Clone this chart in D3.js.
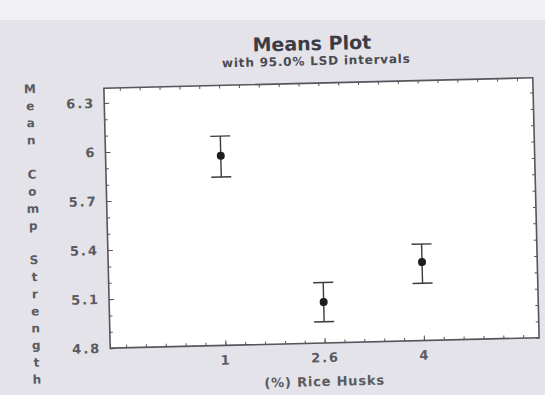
<!DOCTYPE html>
<html lang="en">
<head>
<meta charset="utf-8">
<title>Means Plot</title>
<script src="https://cdn.jsdelivr.net/npm/d3@7"></script>
<style>
    body { margin: 0; background: #f1f1f3; }
    svg { display: block; }
    .tick text { font-family: "DejaVu Sans", sans-serif; font-weight: bold; font-size: 13px; fill: #5a5a60; letter-spacing: 2px; }
    .axis path, .axis line { stroke: #55555c; }
</style>
</head>
<body>
<div id="chart"></div>
<script>

// data
var levels = ["1", "2.6", "4"];
var means = [5.96, 5.05, 5.28];
var lower = [5.83, 4.93, 5.15];
var upper = [6.08, 5.17, 5.39];
var yTicks = [4.8, 5.1, 5.4, 5.7, 6, 6.3];
var yLabel = "Mean Comp Strength";

var width = 545, height = 395;
var box = { left: 107, right: 536, top: 83, bottom: 343 };

var svg = d3.select("#chart").append("svg")
    .attr("width", width)
    .attr("height", height);

// grey page panel
svg.append("rect")
    .attr("x", 0).attr("y", 20)
    .attr("width", width).attr("height", height - 20)
    .attr("fill", "#e3e3e9");

// photo is a bit tilted
var g = svg.append("g")
    .attr("transform", "rotate(-1.4,321,213)");

var x = d3.scaleLinear()
    .domain([-0.16, 4.16])
    .range([box.left, box.right]);

var y = d3.scaleLinear()
    .domain([4.8, 6.39])
    .range([box.bottom, box.top]);

g.append("rect")
    .attr("x", box.left).attr("y", box.top)
    .attr("width", box.right - box.left).attr("height", box.bottom - box.top)
    .attr("fill", "#ffffff")
    .attr("stroke", "#55555c")
    .attr("stroke-width", 1.6);

// minor ticks all round
var yMinor = d3.range(4.8, 6.39, 0.1);
var xMinor = d3.range(0, 4.16, 0.2);

g.append("g").attr("class", "axis")
    .attr("transform", "translate(" + box.left + ",0)")
    .call(d3.axisRight(y).tickValues(yMinor).tickSize(3).tickFormat(""))
    .select(".domain").remove();
g.append("g").attr("class", "axis")
    .attr("transform", "translate(" + box.right + ",0)")
    .call(d3.axisLeft(y).tickValues(yMinor).tickSize(3).tickFormat(""))
    .select(".domain").remove();
g.append("g").attr("class", "axis")
    .attr("transform", "translate(0," + box.bottom + ")")
    .call(d3.axisTop(x).tickValues(xMinor).tickSize(3).tickFormat(""))
    .select(".domain").remove();
g.append("g").attr("class", "axis")
    .attr("transform", "translate(0," + box.top + ")")
    .call(d3.axisBottom(x).tickValues(xMinor).tickSize(3).tickFormat(""))
    .select(".domain").remove();

// labelled axes
var yAxis = g.append("g").attr("class", "axis")
    .attr("transform", "translate(" + box.left + ",0)")
    .call(d3.axisLeft(y).tickValues(yTicks).tickSizeInner(-5).tickSizeOuter(0).tickPadding(9).tickFormat(d3.format("")));
yAxis.select(".domain").remove();

var xAxis = g.append("g").attr("class", "axis")
    .attr("transform", "translate(0," + box.bottom + ")")
    .call(d3.axisBottom(x).tickValues([1, 2, 3]).tickSizeInner(-5).tickSizeOuter(0).tickPadding(10)
        .tickFormat(function(d) { return levels[d - 1]; }));
xAxis.select(".domain").remove();

// error bars and means
var bars = g.append("g").selectAll("g")
    .data(levels)
    .enter().append("g");

bars.append("line")
    .attr("x1", function(d, i) { return x(i + 1); })
    .attr("x2", function(d, i) { return x(i + 1); })
    .attr("y1", function(d, i) { return y(lower[i]); })
    .attr("y2", function(d, i) { return y(upper[i]); })
    .attr("stroke", "#3a3a40").attr("stroke-width", 1.4);

bars.selectAll(".cap")
    .data(function(d, i) { return [[i, upper[i]], [i, lower[i]]]; })
    .enter().append("line")
    .attr("class", "cap")
    .attr("x1", function(d) { return x(d[0] + 1) - 10; })
    .attr("x2", function(d) { return x(d[0] + 1) + 10; })
    .attr("y1", function(d) { return y(d[1]); })
    .attr("y2", function(d) { return y(d[1]); })
    .attr("stroke", "#3a3a40").attr("stroke-width", 1.4);

bars.append("circle")
    .attr("cx", function(d, i) { return x(i + 1); })
    .attr("cy", function(d, i) { return y(means[i]); })
    .attr("r", 4)
    .attr("fill", "#1e1e22");

// titles
g.append("text")
    .attr("x", 316).attr("y", 50)
    .attr("text-anchor", "middle")
    .style("font-family", "DejaVu Sans, sans-serif")
    .style("font-weight", "bold")
    .style("font-size", "19px")
    .attr("fill", "#3c3c44")
    .text("Means Plot");

g.append("text")
    .attr("x", 320).attr("y", 65)
    .attr("text-anchor", "middle")
    .style("font-family", "DejaVu Sans, sans-serif")
    .style("font-weight", "bold")
    .style("font-size", "12px")
    .style("letter-spacing", "0.8px")
    .attr("fill", "#4a4a52")
    .text("with 95.0% LSD intervals");

g.append("text")
    .attr("x", (box.left + box.right) / 2 - 1).attr("y", 386)
    .attr("text-anchor", "middle")
    .style("font-family", "DejaVu Sans, sans-serif")
    .style("font-weight", "bold")
    .style("font-size", "13px")
    .style("letter-spacing", "0.8px")
    .attr("fill", "#5a5a60")
    .text("(%) Rice Husks");

// stacked vertical y label
var ylab = g.append("text")
    .attr("text-anchor", "middle")
    .style("font-family", "DejaVu Sans, sans-serif")
    .style("font-weight", "bold")
    .style("font-size", "12px")
    .attr("fill", "#5a5a60");

ylab.selectAll("tspan")
    .data(yLabel.split(""))
    .enter().append("tspan")
    .attr("x", 33)
    .attr("y", function(d, i) { return 86 + i * 17.1; })
    .text(function(d) { return d; });

</script>
</body>
</html>
